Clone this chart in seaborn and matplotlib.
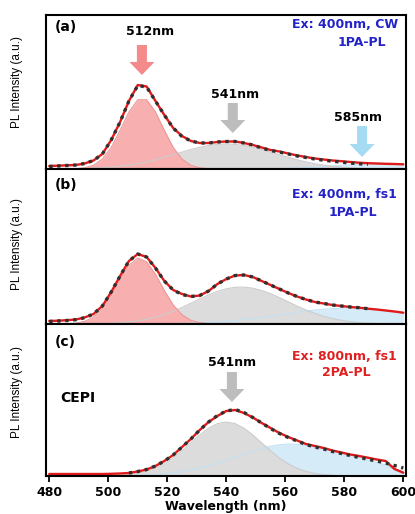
import numpy as np
import pandas as pd
import matplotlib
matplotlib.use("Agg")
import matplotlib.pyplot as plt
import seaborn as sns

# wavelength grid (nm), 3 nm steps
wavelength = np.arange(480, 601, 3)
nan = np.nan

# y values are in pixels above each panel's bottom edge (arbitrary PL units)
# ---- (a) Ex: 400nm, CW ----
a_meas = [3, 3.3, 3.7, 4, 5.5, 8.5, 15, 29, 47, 68,
          84, 82.5, 68, 54, 41, 33, 28, 26, 26, 27,
          27.5, 27.5, 26, 24, 21.5, 19, 17.5, 15.5, 13.5, 12,
          10.5, 9.5, 8.5, 7.8, 7, 6.3, 5.8, 5.5, 5.2, 5,
          4.7]
a_fit = [2.5, 3, 3.5, 4, 5.5, 8.5, 15, 29, 47, 68,
         83.5, 82, 68, 54, 41, 32.5, 28, 26, 26, 27,
         27.5, 27.5, 26, 24, 21, 18.5, 17, 15, 13, 11.5,
         10, 8.8, 7.8, 6.8, 6, 5.2, 4.8, nan, nan, nan,
         nan]
a_512 = [0, 0, 0.1, 0.3, 1.2, 3.7, 9.9, 21.6, 38.7, 57,
         69.3, 69.3, 57, 38.7, 21.6, 9.9, 3.7, 1.2, 0.3, 0.1,
         0, 0, 0, 0, 0, 0, 0, 0, 0, 0,
         0, 0, 0, 0, 0, 0, 0, 0, 0, 0,
         0]
a_541 = [0.05, 0.09, 0.16, 0.28, 0.46, 0.75, 1.2, 1.8, 2.7, 3.8,
         5.3, 7.1, 9.2, 11.7, 14.3, 16.9, 19.5, 21.7, 23.5, 24.6,
         25, 24.6, 23.5, 21.7, 19.5, 16.9, 14.3, 11.7, 9.2, 7.1,
         5.3, 3.8, 2.7, 1.8, 1.2, 0.75, 0.46, 0.28, 0.16, 0.09,
         0.05]
a_585 = [0, 0, 0, 0, 0, 0, 0, 0, 0, 0,
         0, 0, 0, 0, 0, 0, 0, 0, 0, 0,
         0, 0, 0.04, 0.07, 0.13, 0.22, 0.37, 0.58, 0.89, 1.3,
         1.8, 2.4, 3.0, 3.7, 4.25, 4.7, 4.95, 5, 4.8, 4.4,
         3.9]

# ---- (b) Ex: 400nm, fs1 ----
b_meas = [3, 3.3, 3.8, 4.5, 6.5, 10, 18, 32, 48, 63,
          70, 67, 56, 43, 34, 30, 27.5, 28.5, 33, 40,
          45, 48.5, 49, 47, 43, 39, 35, 31, 27.5, 24.5,
          22, 20.5, 19, 18, 17, 16.3, 15.3, 14.5, 13.5, 12.5,
          11.3]
b_fit = [2.5, 3, 3.5, 4.3, 6.3, 10, 18, 32, 48, 63,
         70, 67, 56, 43, 34, 29.5, 27.5, 28.5, 33, 40,
         45, 48.5, 49, 47, 43, 39, 35, 31, 27.5, 24.5,
         22, 20.5, 19, 18, 17, 16.3, 15.3, nan, nan, nan,
         nan]
b_512 = [0, 0.05, 0.24, 0.86, 2.7, 6.9, 15.2, 28.3, 44.4, 58.8,
         66, 62.2, 49.7, 33.5, 19.1, 9.2, 3.7, 1.3, 0.37, 0.09,
         0.02, 0, 0, 0, 0, 0, 0, 0, 0, 0,
         0, 0, 0, 0, 0, 0, 0, 0, 0, 0,
         0]
b_541 = [0.01, 0.02, 0.03, 0.07, 0.13, 0.25, 0.45, 0.77, 1.28, 2.06,
         3.2, 4.8, 6.9, 9.6, 12.8, 16.6, 20.7, 25.0, 29.1, 32.6,
         35.2, 36.7, 36.9, 35.8, 33.5, 30.3, 26.4, 22.2, 17.9, 14.0,
         10.6, 7.7, 5.4, 3.7, 2.4, 1.5, 0.91, 0.54, 0.30, 0.17,
         0.09]
b_585 = [0, 0, 0, 0, 0, 0.01, 0.01, 0.02, 0.04, 0.06,
         0.09, 0.14, 0.2, 0.3, 0.44, 0.62, 0.87, 1.19, 1.6, 2.1,
         2.7, 3.5, 4.4, 5.4, 6.5, 7.7, 9.0, 10.3, 11.6, 12.8,
         13.9, 14.8, 15.4, 15.9, 16, 15.9, 15.4, 14.8, 13.9, 12.3,
         11.0]

# ---- (c) Ex: 800nm, fs1 (CEPI) ----
c_meas = [2, 2, 2, 2, 2, 2, 2, 2.2, 2.5, 3,
          4.5, 6.5, 10, 15, 21, 29, 37, 46, 54, 60,
          65, 66, 63, 58.5, 53, 48, 43, 39, 35.5, 32,
          30, 28, 25.5, 23.5, 21.5, 20, 18.3, 16.5, 15, 7,
          3.3]
c_fit = [nan, nan, nan, nan, nan, nan, nan, nan, nan, 3,
         4.5, 6.5, 10, 15, 21, 29, 37, 46, 54, 60.5,
         65, 66.5, 63.5, 58.5, 53, 47.5, 42.5, 38.5, 35, 31.5,
         29, 27, 24.5, 22.5, 20.5, 18.5, 16.8, 15, 13, 10.5,
         8]
c_541 = [0, 0, 0, 0, 0.01, 0.06, 0.14, 0.31, 0.67, 1.35,
         2.56, 4.6, 7.7, 12.1, 18.0, 25.2, 33.1, 41.0, 47.8, 52.4,
         54, 52.4, 47.8, 41.0, 33.1, 25.2, 18.0, 12.1, 7.7, 4.6,
         2.56, 1.35, 0.67, 0.31, 0.14, 0.06, 0.02, 0.01, 0, 0,
         0]
c_562 = [0, 0, 0.01, 0.02, 0.03, 0.06, 0.1, 0.16, 0.26, 0.42,
         0.67, 1.0, 1.56, 2.3, 3.2, 4.5, 6.1, 8.1, 10.4, 13.1,
         16, 19, 22.2, 25.1, 27.7, 29.8, 31.2, 32, 31.8, 30.8,
         29.2, 27.3, 25.2, 23, 20.8, 18.5, 16, 13.5, 11, 6.5,
         3]

xticks = [480, 500, 520, 540, 560, 580, 600]

sns.set_style("white")
plt.rcParams['font.family'] = ['DejaVu Sans']
plt.rcParams['text.color'] = 'black'
plt.rcParams['axes.labelcolor'] = 'black'
plt.rcParams['xtick.color'] = 'black'

PINK, PINK_E = '#F7AFAF', '#EF9696'
GRAY, GRAY_E = '#DCDCDC', '#CCCCCC'
BLUE, BLUE_E = '#D6EBF8', '#C2E1F4'
RED = '#E01A1A'
TXT_BLUE = '#2323C8'

fig = plt.figure(figsize=(4.15, 5.14), dpi=100)
W, H = 415, 514
left, width = 46 / W, 360 / W
# (top_px, bottom_px) of each panel
boxes = [(15, 169), (169, 324), (324, 476)]
axes = []
for top, bot in boxes:
    ax = fig.add_axes([left, 1 - bot / H, width, (bot - top) / H])
    ax.set_xlim(478.9, 600.9)
    ax.set_ylim(0, bot - top)
    axes.append(ax)


def draw_panel(ax, meas, fit, comps):
    for vals, fc, ec in comps:
        ax.fill_between(wavelength, 0, vals, color=fc, lw=0)
        ax.plot(wavelength, vals, color=ec, lw=0.8)
    df = pd.DataFrame({'wl': wavelength, 'meas': meas, 'fit': fit})
    sns.lineplot(data=df, x='wl', y='meas', ax=ax, color=RED, lw=1.7)
    sns.lineplot(data=df.dropna(), x='wl', y='fit', ax=ax, color='#303030',
                 lw=2.4, linestyle=(0, (1, 1.4)))


def arrow(ax, x, y_tail, y_tip, color):
    ax.arrow(x, y_tail, 0, y_tip - y_tail, width=3.4, head_width=8.5,
             head_length=13, length_includes_head=True, color=color, lw=0)


draw_panel(axes[0], a_meas, a_fit,
           [(a_585, BLUE, BLUE_E), (a_541, GRAY, GRAY_E), (a_512, PINK, PINK_E)])
draw_panel(axes[1], b_meas, b_fit,
           [(b_585, BLUE, BLUE_E), (b_541, GRAY, GRAY_E), (b_512, PINK, PINK_E)])
draw_panel(axes[2], c_meas, c_fit,
           [(c_562, BLUE, BLUE_E), (c_541, GRAY, GRAY_E)])

bold = dict(fontweight='bold', ha='center', va='center')

ax = axes[0]
ax.text(485.7, 142, '(a)', fontsize=10, **bold)
ax.text(514.1, 137, '512nm', fontsize=9, **bold)
arrow(ax, 511.4, 124, 94, '#F48A8A')
ax.text(542.9, 74, '541nm', fontsize=9, **bold)
arrow(ax, 542.2, 66, 36, '#BDBDBD')
ax.text(584.6, 51, '585nm', fontsize=9, **bold)
arrow(ax, 586.0, 43, 12, '#A6DBF4')
ax.text(598.2, 144, 'Ex: 400nm, CW', fontsize=9, color=TXT_BLUE,
        fontweight='bold', ha='right', va='center')
ax.text(586.0, 126, '1PA-PL', fontsize=9, color=TXT_BLUE, **bold)

ax = axes[1]
ax.text(485.7, 139, '(b)', fontsize=10, **bold)
ax.text(597.8, 129, 'Ex: 400nm, fs1', fontsize=9, color=TXT_BLUE,
        fontweight='bold', ha='right', va='center')
ax.text(583.0, 111, '1PA-PL', fontsize=9, color=TXT_BLUE, **bold)

ax = axes[2]
ax.text(485.3, 134, '(c)', fontsize=10, **bold)
ax.text(541.9, 114, '541nm', fontsize=9, **bold)
arrow(ax, 541.9, 104, 74, '#BDBDBD')
ax.text(489.7, 78, 'CEPI', fontsize=10, **bold)
ax.text(597.8, 119, 'Ex: 800nm, fs1', fontsize=9, color='#E02020',
        fontweight='bold', ha='right', va='center')
ax.text(580.8, 103, '2PA-PL', fontsize=9, color='#E02020', **bold)

label_y = [0.565, 0.516, 0.553]
for ax, ly in zip(axes, label_y):
    for s in ax.spines.values():
        s.set_linewidth(1.5)
        s.set_color('black')
    ax.set_yticks([])
    ax.set_ylabel('PL Intensity (a.u.)', fontsize=8.5, color='black',
                  family=['Liberation Sans', 'DejaVu Sans'])
    ax.yaxis.set_label_coords(-0.064, ly)
    if ax is not axes[2]:
        ax.set_xticks([])
        ax.set_xlabel('')

ax = axes[2]
ax.set_xticks(xticks)
ax.tick_params(axis='x', direction='out', length=4, width=1.3, pad=3,
               labelsize=9, bottom=True, colors='black')
for t in ax.get_xticklabels():
    t.set_fontweight('bold')
ax.set_xlabel('Wavelength (nm)', fontsize=9, fontweight='bold',
              color='black', labelpad=1)

fig.savefig('out.png', dpi=100)
